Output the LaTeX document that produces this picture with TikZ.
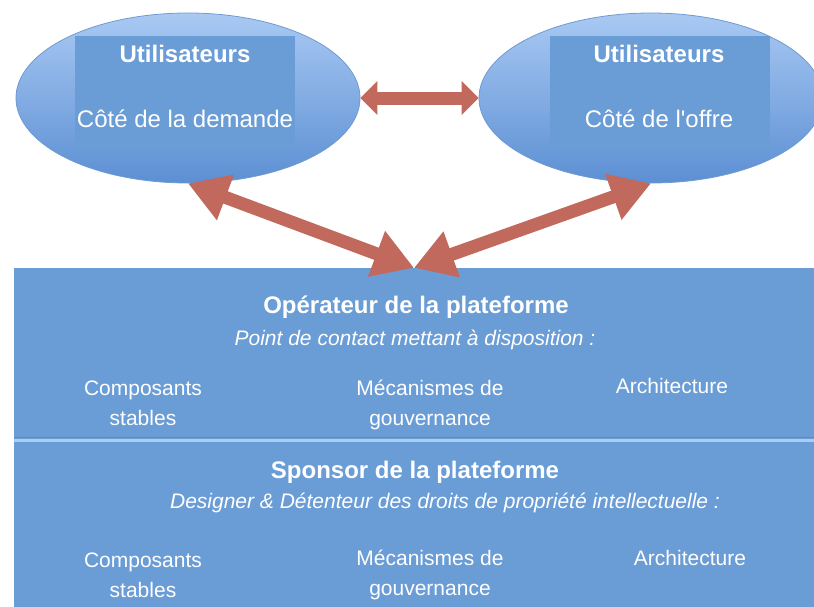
\documentclass[tikz,border=0pt]{standalone}
\usepackage{fontspec}
\setmainfont{Liberation Sans}
\usetikzlibrary{positioning,shapes,arrows.meta,calc}
\definecolor{ellipsetop}{HTML}{A9C9F3}
\definecolor{ellipsebot}{HTML}{5C8FD3}
\definecolor{ellipseedge}{HTML}{6F9AD2}
\definecolor{panelblue}{HTML}{6A9CD6}
\definecolor{paneldark}{HTML}{5B8BC9}
\definecolor{panellight}{HTML}{AECBF2}
\definecolor{arrowred}{HTML}{C1695C}

\begin{document}
\begin{tikzpicture}[x=1pt, y=-1pt,
    user/.style={ellipse, draw=ellipseedge, thick, top color=ellipsetop, bottom color=ellipsebot,
      minimum width=344pt, minimum height=170pt, inner sep=0pt},
    userbox/.style={fill=panelblue, minimum width=220pt, minimum height=114pt, inner sep=0pt},
    panel/.style={rectangle, fill=panelblue, minimum width=800pt, inner sep=0pt},
    title/.style={text=white, font=\fontsize{24}{28}\selectfont\bfseries, anchor=base},
    side/.style={text=white, font=\fontsize{24}{28}\selectfont, anchor=base},
    role/.style={text=white, font=\fontsize{21}{30}\selectfont\itshape, anchor=base},
    item/.style={text=white, font=\fontsize{21}{30}\selectfont, align=center, anchor=base},
    fat/.style={line width=13pt, arrowred,
      {Triangle[length=40pt,width=46pt]}-{Triangle[length=40pt,width=46pt]}},
    thin/.style={line width=13pt, arrowred,
      {Triangle[length=17pt,width=33pt]}-{Triangle[length=17pt,width=33pt]}}]
      \useasboundingbox (0,0) rectangle (814,606);

      \node[user] (demande) at (188,98) {};
      \node[user] (offre) at (651,98) {};
      \node[userbox] (demandebox) at (185,93) {};
      \node[userbox] (offrebox) at (660,93) {};
      \node[title] (demtitle) at (185,62) {Utilisateurs};
      \node[side] (demtext) at (185,127) {Côté de la demande};
      \node[title] (offtitle) at (659,62) {Utilisateurs};
      \node[side] (offtext) at (659,127) {Côté de l\textquotesingle offre};

      \node[panel, minimum height=172pt] (operateur) at (414,354) {};
      \node[panel, minimum height=170pt] (sponsor) at (414,525) {};
      \draw[paneldark, line width=1.5pt] ([yshift=2.5pt]sponsor.north west) -- ([yshift=2.5pt]sponsor.north east);
      \draw[panellight, line width=3pt] ([yshift=-1pt]sponsor.north west) -- ([yshift=-1pt]sponsor.north east);

      \node[title] (optitle) at (416,313) {Opérateur de la plateforme};
      \node[role] (opsub) at (415,345) {Point de contact mettant à disposition :};
      \node[item] (opcomp) at (143,425) {Composants\\stables};
      \node[item] (opmeca) at (430,425) {Mécanismes de\\gouvernance};
      \node[item] (oparch) at (672,393) {Architecture};

      \node[title] (sptitle) at (415,478) {Sponsor de la plateforme};
      \node[role] (spsub) at (445,508) {Designer \& Détenteur des droits de propriété intellectuelle :};
      \node[item] (spcomp) at (143,597) {Composants\\stables};
      \node[item] (spmeca) at (430,595) {Mécanismes de\\gouvernance};
      \node[item] (sparch) at (690,565) {Architecture};

      \draw[thin] (demande.east) -- (offre.west);
      \draw[fat] (demande.south) -- (operateur.north);
      \draw[fat] (offre.south) -- (operateur.north);
    \end{tikzpicture}
\end{document}
